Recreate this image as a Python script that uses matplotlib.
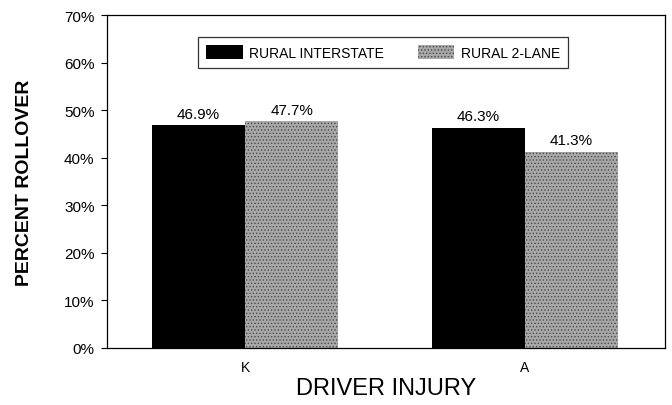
import matplotlib.pyplot as plt
import numpy as np

plt.rcParams['font.family'] = ['Liberation Sans', 'DejaVu Sans']
plt.rcParams['hatch.linewidth'] = 0.6

# data
categories = ['K', 'A']
series_names = ['RURAL INTERSTATE', 'RURAL 2-LANE']
interstate = [46.9, 46.3]
two_lane = [47.7, 41.3]
y_ticks = [0, 10, 20, 30, 40, 50, 60, 70]

fig = plt.figure(figsize=(6.72, 4.06), dpi=100)
ax = fig.add_axes([107 / 672, 1 - 349 / 406, 558 / 672, 333 / 406])

x = np.arange(len(categories))
width = 0.333

b1 = ax.bar(x - width / 2, interstate, width, color='black', label=series_names[0])
b2 = ax.bar(x + width / 2, two_lane, width, color='#a8a8a8', edgecolor='#4a4a4a',
            hatch='.....', linewidth=0, label=series_names[1])

for rect, v in zip(list(b1) + list(b2), interstate + two_lane):
    ax.text(rect.get_x() + rect.get_width() / 2, v + 0.9, f'{v:.1f}%',
            ha='center', va='bottom', fontsize=11)

ax.set_xlim(-0.493, 1.5)
ax.set_ylim(0, 70)
ax.set_yticks(y_ticks)
ax.set_yticklabels([f'{t}%' for t in y_ticks], fontsize=11)
ax.set_xticks(x)
ax.set_xticklabels(categories, fontsize=10)
ax.tick_params(axis='x', length=0, pad=9)
ax.tick_params(axis='y', length=4, direction='out', pad=5)
for s in ax.spines.values():
    s.set_linewidth(0.9)

ax.set_xlabel('DRIVER INJURY', fontsize=17, labelpad=2)
ax.set_ylabel('PERCENT ROLLOVER', fontsize=14, fontweight='bold', labelpad=22)

leg = ax.legend(loc='upper center', bbox_to_anchor=(0.495, 0.955), ncol=2,
                frameon=True, fancybox=False, edgecolor='black', fontsize=10,
                handlelength=2.6, handleheight=1.1, columnspacing=2.4,
                handletextpad=0.5, borderpad=0.6)
leg.get_frame().set_linewidth(0.9)

plt.savefig('out.png', dpi=100)
